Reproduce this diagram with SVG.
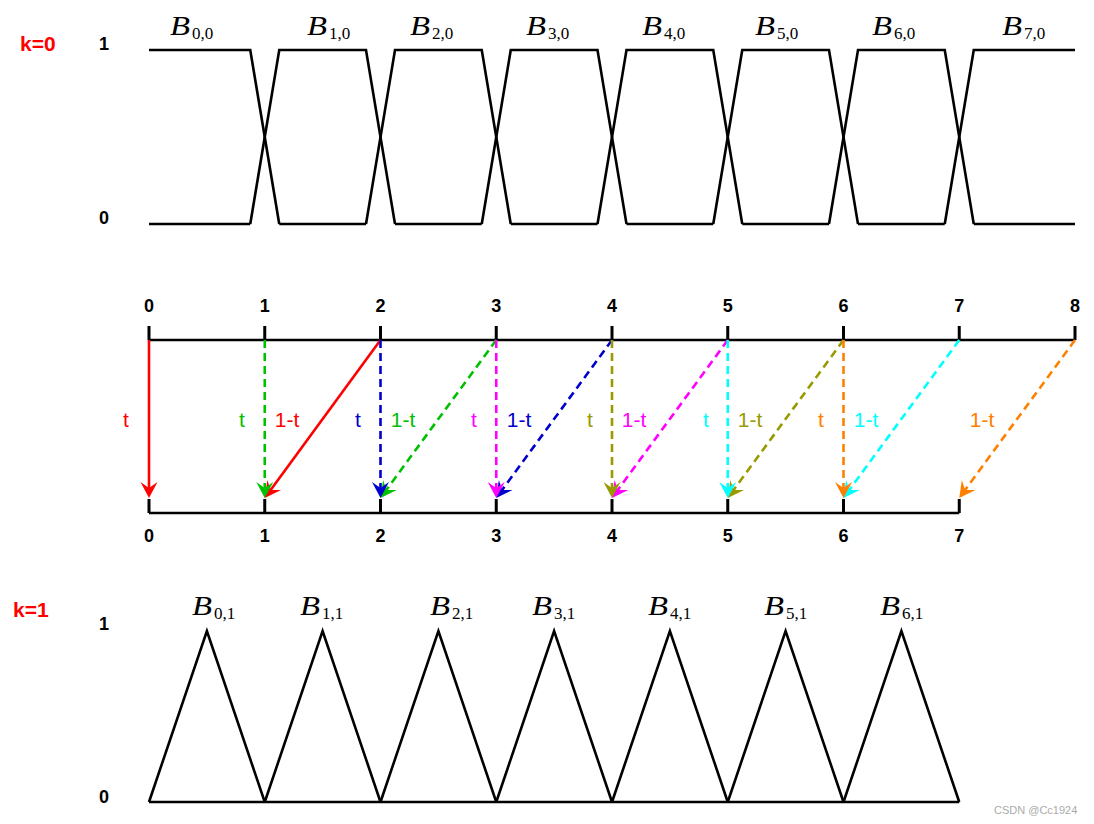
<svg xmlns="http://www.w3.org/2000/svg" width="1094" height="824" viewBox="0 0 1094 824">
<style>
.ln{fill:none;stroke:#000;stroke-width:2.6;stroke-linejoin:miter}
.ax{fill:none;stroke:#000;stroke-width:2.6}
.tk{stroke:#000;stroke-width:3}
.num{font-family:"Liberation Sans",Arial,sans-serif;font-weight:bold;font-size:18px;fill:#000;text-anchor:middle}
.kl{font-family:"Liberation Sans",Arial,sans-serif;font-weight:bold;font-size:21px;fill:#f00}
.wl{font-family:"Liberation Sans",Arial,sans-serif;font-size:21px;text-anchor:middle}
.bB{font-family:"Liberation Serif","Times New Roman",serif;font-style:italic;font-size:28px;fill:#000}
.bs{font-family:"Liberation Serif","Times New Roman",serif;font-size:17px;fill:#000}
.ar{fill:none;stroke-width:2.6}
.d{stroke-dasharray:8 5}
.wm{font-family:"Liberation Sans",Arial,sans-serif;font-size:11px;fill:#aaa}
</style>
<defs>
<marker id="mr" markerUnits="userSpaceOnUse" markerWidth="20" markerHeight="20" refX="6" refY="8.5" orient="auto" overflow="visible"><path d="M16,8.5 L0,0 L6,8.5 L0,17 Z" fill="#ff0000"/></marker>
<marker id="mg" markerUnits="userSpaceOnUse" markerWidth="20" markerHeight="20" refX="6" refY="8.5" orient="auto" overflow="visible"><path d="M16,8.5 L0,0 L6,8.5 L0,17 Z" fill="#00c000"/></marker>
<marker id="mb" markerUnits="userSpaceOnUse" markerWidth="20" markerHeight="20" refX="6" refY="8.5" orient="auto" overflow="visible"><path d="M16,8.5 L0,0 L6,8.5 L0,17 Z" fill="#0000cd"/></marker>
<marker id="mm" markerUnits="userSpaceOnUse" markerWidth="20" markerHeight="20" refX="6" refY="8.5" orient="auto" overflow="visible"><path d="M16,8.5 L0,0 L6,8.5 L0,17 Z" fill="#ff00ff"/></marker>
<marker id="mo" markerUnits="userSpaceOnUse" markerWidth="20" markerHeight="20" refX="6" refY="8.5" orient="auto" overflow="visible"><path d="M16,8.5 L0,0 L6,8.5 L0,17 Z" fill="#999900"/></marker>
<marker id="mc" markerUnits="userSpaceOnUse" markerWidth="20" markerHeight="20" refX="6" refY="8.5" orient="auto" overflow="visible"><path d="M16,8.5 L0,0 L6,8.5 L0,17 Z" fill="#00ffff"/></marker>
<marker id="mn" markerUnits="userSpaceOnUse" markerWidth="20" markerHeight="20" refX="6" refY="8.5" orient="auto" overflow="visible"><path d="M16,8.5 L0,0 L6,8.5 L0,17 Z" fill="#ff8000"/></marker>
</defs>
<rect width="1094" height="824" fill="#fff"/>

<!-- k=0 section -->
<g id="k0-labels">
<text class="kl" x="20" y="51">k=0</text>
<text class="num" x="104" y="50">1</text>
<text class="num" x="104" y="224">0</text>
</g>
<g id="k0-baseline">
<path class="ln" d="M149,224H250.25 M279.25,224H366 M395,224H481.75 M510.75,224H597.5 M626.5,224H713.25 M742.25,224H829 M858,224H944.75 M973.75,224H1075"/>
</g>
<g id="B00"><polyline class="ln" points="149,50 250.25,50 279.25,224"/>
<text class="bB" x="170" y="35" textLength="20" lengthAdjust="spacingAndGlyphs">B</text><text class="bs" x="192" y="39">0,0</text></g>
<g id="B10"><polyline class="ln" points="250.25,224 279.25,50 366,50 395,224"/>
<text class="bB" x="307" y="35" textLength="20" lengthAdjust="spacingAndGlyphs">B</text><text class="bs" x="329" y="39">1,0</text></g>
<g id="B20"><polyline class="ln" points="366,224 395,50 481.75,50 510.75,224"/>
<text class="bB" x="410" y="35" textLength="20" lengthAdjust="spacingAndGlyphs">B</text><text class="bs" x="432" y="39">2,0</text></g>
<g id="B30"><polyline class="ln" points="481.75,224 510.75,50 597.5,50 626.5,224"/>
<text class="bB" x="526" y="35" textLength="20" lengthAdjust="spacingAndGlyphs">B</text><text class="bs" x="548" y="39">3,0</text></g>
<g id="B40"><polyline class="ln" points="597.5,224 626.5,50 713.25,50 742.25,224"/>
<text class="bB" x="642" y="35" textLength="20" lengthAdjust="spacingAndGlyphs">B</text><text class="bs" x="664" y="39">4,0</text></g>
<g id="B50"><polyline class="ln" points="713.25,224 742.25,50 829,50 858,224"/>
<text class="bB" x="755" y="35" textLength="20" lengthAdjust="spacingAndGlyphs">B</text><text class="bs" x="777" y="39">5,0</text></g>
<g id="B60"><polyline class="ln" points="829,224 858,50 944.75,50 973.75,224"/>
<text class="bB" x="872" y="35" textLength="20" lengthAdjust="spacingAndGlyphs">B</text><text class="bs" x="894" y="39">6,0</text></g>
<g id="B70"><polyline class="ln" points="944.75,224 973.75,50 1075,50"/>
<text class="bB" x="1002" y="35" textLength="20" lengthAdjust="spacingAndGlyphs">B</text><text class="bs" x="1024" y="39">7,0</text></g>

<!-- axes -->
<g id="top-axis">
<line class="ax" x1="149" y1="340" x2="1075" y2="340"/>
<path class="tk" d="M149,326V340 M264.75,326V340 M380.5,326V340 M496.25,326V340 M612,326V340 M727.75,326V340 M843.5,326V340 M959.25,326V340 M1075,326V340"/>
<text class="num" x="149" y="312">0</text><text class="num" x="264.75" y="312">1</text><text class="num" x="380.5" y="312">2</text><text class="num" x="496.25" y="312">3</text><text class="num" x="612" y="312">4</text><text class="num" x="727.75" y="312">5</text><text class="num" x="843.5" y="312">6</text><text class="num" x="959.25" y="312">7</text><text class="num" x="1075" y="312">8</text>
</g>
<g id="bottom-axis">
<line class="ax" x1="149" y1="513" x2="959.25" y2="513"/>
<path class="tk" d="M149,499V513 M264.75,499V513 M380.5,499V513 M496.25,499V513 M612,499V513 M727.75,499V513 M843.5,499V513 M959.25,499V513"/>
<text class="num" x="149" y="542">0</text><text class="num" x="264.75" y="542">1</text><text class="num" x="380.5" y="542">2</text><text class="num" x="496.25" y="542">3</text><text class="num" x="612" y="542">4</text><text class="num" x="727.75" y="542">5</text><text class="num" x="843.5" y="542">6</text><text class="num" x="959.25" y="542">7</text>
</g>

<!-- connectors -->
<g id="connectors">
<line class="ar" stroke="#ff0000" x1="149" y1="340" x2="149" y2="488" marker-end="url(#mr)"/>
<line class="ar" stroke="#ff0000" x1="380.5" y1="340" x2="270.65" y2="489.9" marker-end="url(#mr)"/>
<line class="ar d" stroke="#00c000" x1="264.75" y1="340" x2="264.75" y2="488" marker-end="url(#mg)"/>
<line class="ar d" stroke="#00c000" x1="496.25" y1="340" x2="386.4" y2="489.9" marker-end="url(#mg)"/>
<line class="ar d" stroke="#0000cd" x1="380.5" y1="340" x2="380.5" y2="488" marker-end="url(#mb)"/>
<line class="ar d" stroke="#0000cd" x1="612" y1="340" x2="502.15" y2="489.9" marker-end="url(#mb)"/>
<line class="ar d" stroke="#ff00ff" x1="496.25" y1="340" x2="496.25" y2="488" marker-end="url(#mm)"/>
<line class="ar d" stroke="#ff00ff" x1="727.75" y1="340" x2="617.9" y2="489.9" marker-end="url(#mm)"/>
<line class="ar d" stroke="#999900" x1="612" y1="340" x2="612" y2="488" marker-end="url(#mo)"/>
<line class="ar d" stroke="#999900" x1="843.5" y1="340" x2="733.65" y2="489.9" marker-end="url(#mo)"/>
<line class="ar d" stroke="#00ffff" x1="727.75" y1="340" x2="727.75" y2="488" marker-end="url(#mc)"/>
<line class="ar d" stroke="#00ffff" x1="959.25" y1="340" x2="849.4" y2="489.9" marker-end="url(#mc)"/>
<line class="ar d" stroke="#ff8000" x1="843.5" y1="340" x2="843.5" y2="488" marker-end="url(#mn)"/>
<line class="ar d" stroke="#ff8000" x1="1075" y1="340" x2="965.15" y2="489.9" marker-end="url(#mn)"/>
</g>
<g id="weights">
<text class="wl" fill="#ff0000" x="126" y="427">t</text>
<text class="wl" fill="#00c000" x="242" y="427">t</text>
<text class="wl" fill="#ff0000" x="287" y="427">1-t</text>
<text class="wl" fill="#0000cd" x="358" y="427">t</text>
<text class="wl" fill="#00c000" x="403" y="427">1-t</text>
<text class="wl" fill="#ff00ff" x="474" y="427">t</text>
<text class="wl" fill="#0000cd" x="519" y="427">1-t</text>
<text class="wl" fill="#999900" x="590" y="427">t</text>
<text class="wl" fill="#ff00ff" x="634" y="427">1-t</text>
<text class="wl" fill="#00ffff" x="706" y="427">t</text>
<text class="wl" fill="#999900" x="750" y="427">1-t</text>
<text class="wl" fill="#ff8000" x="821" y="427">t</text>
<text class="wl" fill="#00ffff" x="866" y="427">1-t</text>
<text class="wl" fill="#ff8000" x="982" y="427">1-t</text>
</g>

<!-- k=1 section -->
<g id="k1-labels">
<text class="kl" x="13" y="617">k=1</text>
<text class="num" x="104" y="630">1</text>
<text class="num" x="104" y="803">0</text>
</g>
<g id="k1-baseline"><line class="ax" x1="149" y1="802" x2="959.25" y2="802"/></g>
<g id="B01"><polyline class="ln" points="149,802 206.9,631 264.75,802"/>
<text class="bB" x="192" y="615" textLength="20" lengthAdjust="spacingAndGlyphs">B</text><text class="bs" x="214" y="619">0,1</text></g>
<g id="B11"><polyline class="ln" points="264.75,802 322.6,631 380.5,802"/>
<text class="bB" x="300" y="615" textLength="20" lengthAdjust="spacingAndGlyphs">B</text><text class="bs" x="322" y="619">1,1</text></g>
<g id="B21"><polyline class="ln" points="380.5,802 438.4,631 496.25,802"/>
<text class="bB" x="430" y="615" textLength="20" lengthAdjust="spacingAndGlyphs">B</text><text class="bs" x="452" y="619">2,1</text></g>
<g id="B31"><polyline class="ln" points="496.25,802 554.1,631 612,802"/>
<text class="bB" x="532" y="615" textLength="20" lengthAdjust="spacingAndGlyphs">B</text><text class="bs" x="554" y="619">3,1</text></g>
<g id="B41"><polyline class="ln" points="612,802 669.9,631 727.75,802"/>
<text class="bB" x="648" y="615" textLength="20" lengthAdjust="spacingAndGlyphs">B</text><text class="bs" x="670" y="619">4,1</text></g>
<g id="B51"><polyline class="ln" points="727.75,802 785.6,631 843.5,802"/>
<text class="bB" x="764" y="615" textLength="20" lengthAdjust="spacingAndGlyphs">B</text><text class="bs" x="786" y="619">5,1</text></g>
<g id="B61"><polyline class="ln" points="843.5,802 901.4,631 959.25,802"/>
<text class="bB" x="880" y="615" textLength="20" lengthAdjust="spacingAndGlyphs">B</text><text class="bs" x="902" y="619">6,1</text></g>

<text class="wm" x="994" y="814">CSDN @Cc1924</text>
</svg>
